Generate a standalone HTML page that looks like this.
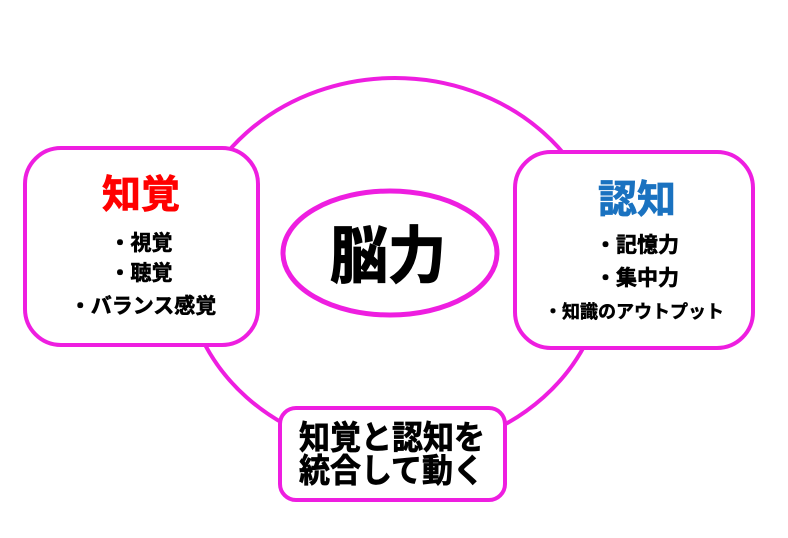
<!DOCTYPE html>
<html><head><meta charset="utf-8"><style>
html,body{margin:0;padding:0;background:#fff;}
svg{display:block;font-family:"Liberation Sans","Noto Sans CJK JP",sans-serif;font-weight:bold;}
</style></head><body>
<svg width="788" height="538" viewBox="0 0 788 538" xmlns="http://www.w3.org/2000/svg">
<ellipse cx="395" cy="265" rx="210" ry="187" fill="none" stroke="#ee1ee0" stroke-width="4"/>
<rect x="25" y="148" width="233" height="197" rx="36" fill="#fff" stroke="#ee1ee0" stroke-width="4"/>
<rect x="515" y="152" width="238" height="196" rx="36" fill="#fff" stroke="#ee1ee0" stroke-width="4"/>
<rect x="280" y="408" width="225" height="92" rx="16" fill="#fff" stroke="#ee1ee0" stroke-width="4"/>
<ellipse cx="390" cy="253" rx="107" ry="62" fill="#fff" stroke="#ee1ee0" stroke-width="5"/>
<g text-anchor="middle">
<text x="141" y="208" font-size="39" fill="#ff0000" stroke="#ff0000" stroke-width="0.8">知覚</text>
<text x="141" y="250" font-size="21" fill="#000" stroke="#000" stroke-width="0.6">・視覚</text>
<text x="141" y="280" font-size="21" fill="#000" stroke="#000" stroke-width="0.6">・聴覚</text>
<text x="143" y="313" font-size="21" fill="#000" stroke="#000" stroke-width="0.6">・バランス感覚</text>
<text x="637" y="213" font-size="39" fill="#1a72c0" stroke="#1a72c0" stroke-width="0.8">認知</text>
<text x="637" y="252" font-size="21" fill="#000" stroke="#000" stroke-width="0.6">・記憶力</text>
<text x="637" y="285" font-size="21" fill="#000" stroke="#000" stroke-width="0.6">・集中力</text>
<text x="634" y="318" font-size="18" fill="#000" stroke="#000" stroke-width="0.5">・知識のアウトプット</text>
<text x="388" y="278" font-size="58" fill="#000" stroke="#000" stroke-width="1.2" transform="translate(0,-20) scale(1,1.07)">脳力</text>
</g>
<text x="299" y="447" font-size="31" fill="#000" stroke="#000" stroke-width="0.7" transform="translate(0,-25) scale(1,1.06)">知覚と認知を</text>
<text x="299" y="480" font-size="31" fill="#000" stroke="#000" stroke-width="0.7" transform="translate(0,-27) scale(1,1.06)">統合して動く</text>
</svg>
</body></html>
